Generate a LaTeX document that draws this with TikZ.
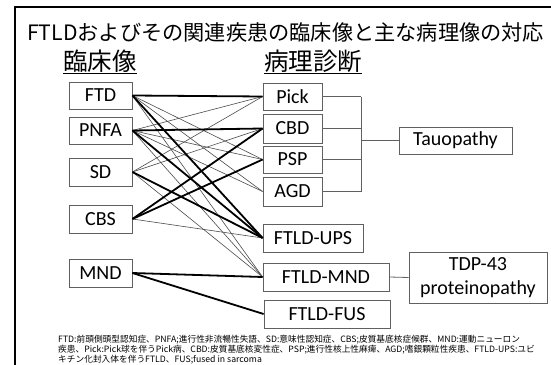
\documentclass[tikz,border=0pt]{standalone}
\usepackage{fontspec}
\setmainfont{Carlito}
\newfontfamily\jp{Noto Sans CJK JP}
\begin{document}
\begin{tikzpicture}[x=1pt,y=-1pt,
  box/.style={draw=gray!75!black, line width=0.8pt, inner sep=0pt, font=\fontsize{20}{22}\selectfont, align=center},
  thk/.style={black, line width=1.8pt},
  thn/.style={gray!60!black, line width=0.6pt},
  brk/.style={gray!75!black, line width=0.8pt}]
\useasboundingbox (0,0) rectangle (551,364);
\clip (0,0) rectangle (551,364);
\fill[white] (0,0) rectangle (551,364);
% frame
\draw[line width=2.5pt] (15,400) -- (15,7) -- (600,7);
% title and headings
\node[anchor=west, inner sep=0pt, font=\jp\fontsize{21.2}{22}\selectfont] (title) at (27,32) {FTLDおよびその関連疾患の臨床像と主な病理像の対応};
\node[anchor=base west, inner sep=0pt, font=\jp\fontsize{24.5}{25}\selectfont] (h1) at (63,70) {臨床像};
\node[anchor=base west, inner sep=0pt, font=\jp\fontsize{24.5}{25}\selectfont] (h2) at (264,70) {病理診断};
\draw[line width=1pt] ([yshift=-3pt]h1.base west) -- ([yshift=-3pt]h1.base east);
\draw[line width=1pt] ([yshift=-3pt]h2.base west) -- ([yshift=-3pt]h2.base east);
% clinical boxes
\node[box, minimum width=63pt, minimum height=27pt] (ftd) at (100.5,95.5) {FTD};
\node[box, minimum width=63pt, minimum height=27pt] (pnfa) at (100.5,130.5) {PNFA};
\node[box, minimum width=63pt, minimum height=28pt] (sd) at (100.5,172) {SD};
\node[box, minimum width=63pt, minimum height=28pt] (cbs) at (100.5,219) {CBS};
\node[box, minimum width=63pt, minimum height=28pt] (mnd) at (100.5,273) {MND};
% pathology boxes
\node[box, minimum width=59pt, minimum height=27pt] (pick) at (292.5,96.5) {Pick};
\node[box, minimum width=59pt, minimum height=29pt] (cbd) at (292.5,128.5) {CBD};
\node[box, minimum width=59pt, minimum height=27pt] (psp) at (292.5,159.5) {PSP};
\node[box, minimum width=59pt, minimum height=29pt] (agd) at (292.5,191.5) {AGD};
\node[box, minimum width=100pt, minimum height=28pt] (ups) at (313,238) {FTLD-UPS};
\node[box, minimum width=126pt, minimum height=28pt] (fmnd) at (326,277) {FTLD-MND};
\node[box, minimum width=126pt, minimum height=28pt] (fus) at (327,314) {FTLD-FUS};
\node[box, minimum width=113pt, minimum height=27pt] (tau) at (455.5,140.5) {Tauopathy};
\node[box, minimum width=138pt, minimum height=51pt, font=\fontsize{20}{24}\selectfont] (tdp) at (478,277.5) {TDP-43\\proteinopathy};
% bracket to Tauopathy
\coordinate (bx) at (361,0);
\draw[brk] (pick.east) -- (pick.east -| bx);
\draw[brk] (cbd.east) -- (cbd.east -| bx);
\draw[brk] (psp.east) -- (psp.east -| bx);
\draw[brk] (agd.east) -- (agd.east -| bx);
\draw[brk] (pick.east -| bx) -- (agd.east -| bx);
\draw[brk] (tau.west) -- (tau.west -| bx);
\draw[brk] (fmnd.east) -- (tdp.west);
% thin connectors
\draw[thn] (ftd.east) -- (psp.west);
\draw[thn] (ftd.east) -- (agd.west);
\draw[thn] (ftd.east) -- (fmnd.west);
\draw[thn] (pnfa.east) -- (pick.west);
\draw[thn] (pnfa.east) -- (psp.west);
\draw[thn] (pnfa.east) -- (agd.west);
\draw[thn] (pnfa.east) -- (fmnd.west);
\draw[thn] (sd.east) -- (pick.west);
\draw[thn] (sd.east) -- (cbd.west);
\draw[thn] (sd.east) -- (fmnd.west);
\draw[thn] (cbs.east) -- (ups.west);
% thick connectors
\draw[thk] (ftd.east) -- (pick.west);
\draw[thk] (ftd.east) -- (ups.west);
\draw[thk] (pnfa.east) -- (cbd.west);
\draw[thk] (pnfa.east) -- (ups.west);
\draw[thk] (sd.east) -- (ups.west);
\draw[thk] (cbs.east) -- (cbd.west);
\draw[thk] (cbs.east) -- (psp.west);
\draw[thk] (mnd.east) -- (fmnd.west);
\draw[thk] (mnd.east) -- (fus.west);
% footnote
\node[anchor=north west, inner sep=0pt, align=left, font=\jp\fontsize{8.7}{10.2}\selectfont] (note) at (58,335) {FTD:前頭側頭型認知症、PNFA;進行性非流暢性失語、SD:意味性認知症、CBS;皮質基底核症候群、MND:運動ニューロン\\疾患、Pick:Pick球を伴うPick病、CBD:皮質基底核変性症、PSP;進行性核上性麻痺、AGD;嗜銀顆粒性疾患、FTLD-UPS:ユビ\\キチン化封入体を伴うFTLD、FUS;fused in sarcoma};
\end{tikzpicture}
\end{document}
